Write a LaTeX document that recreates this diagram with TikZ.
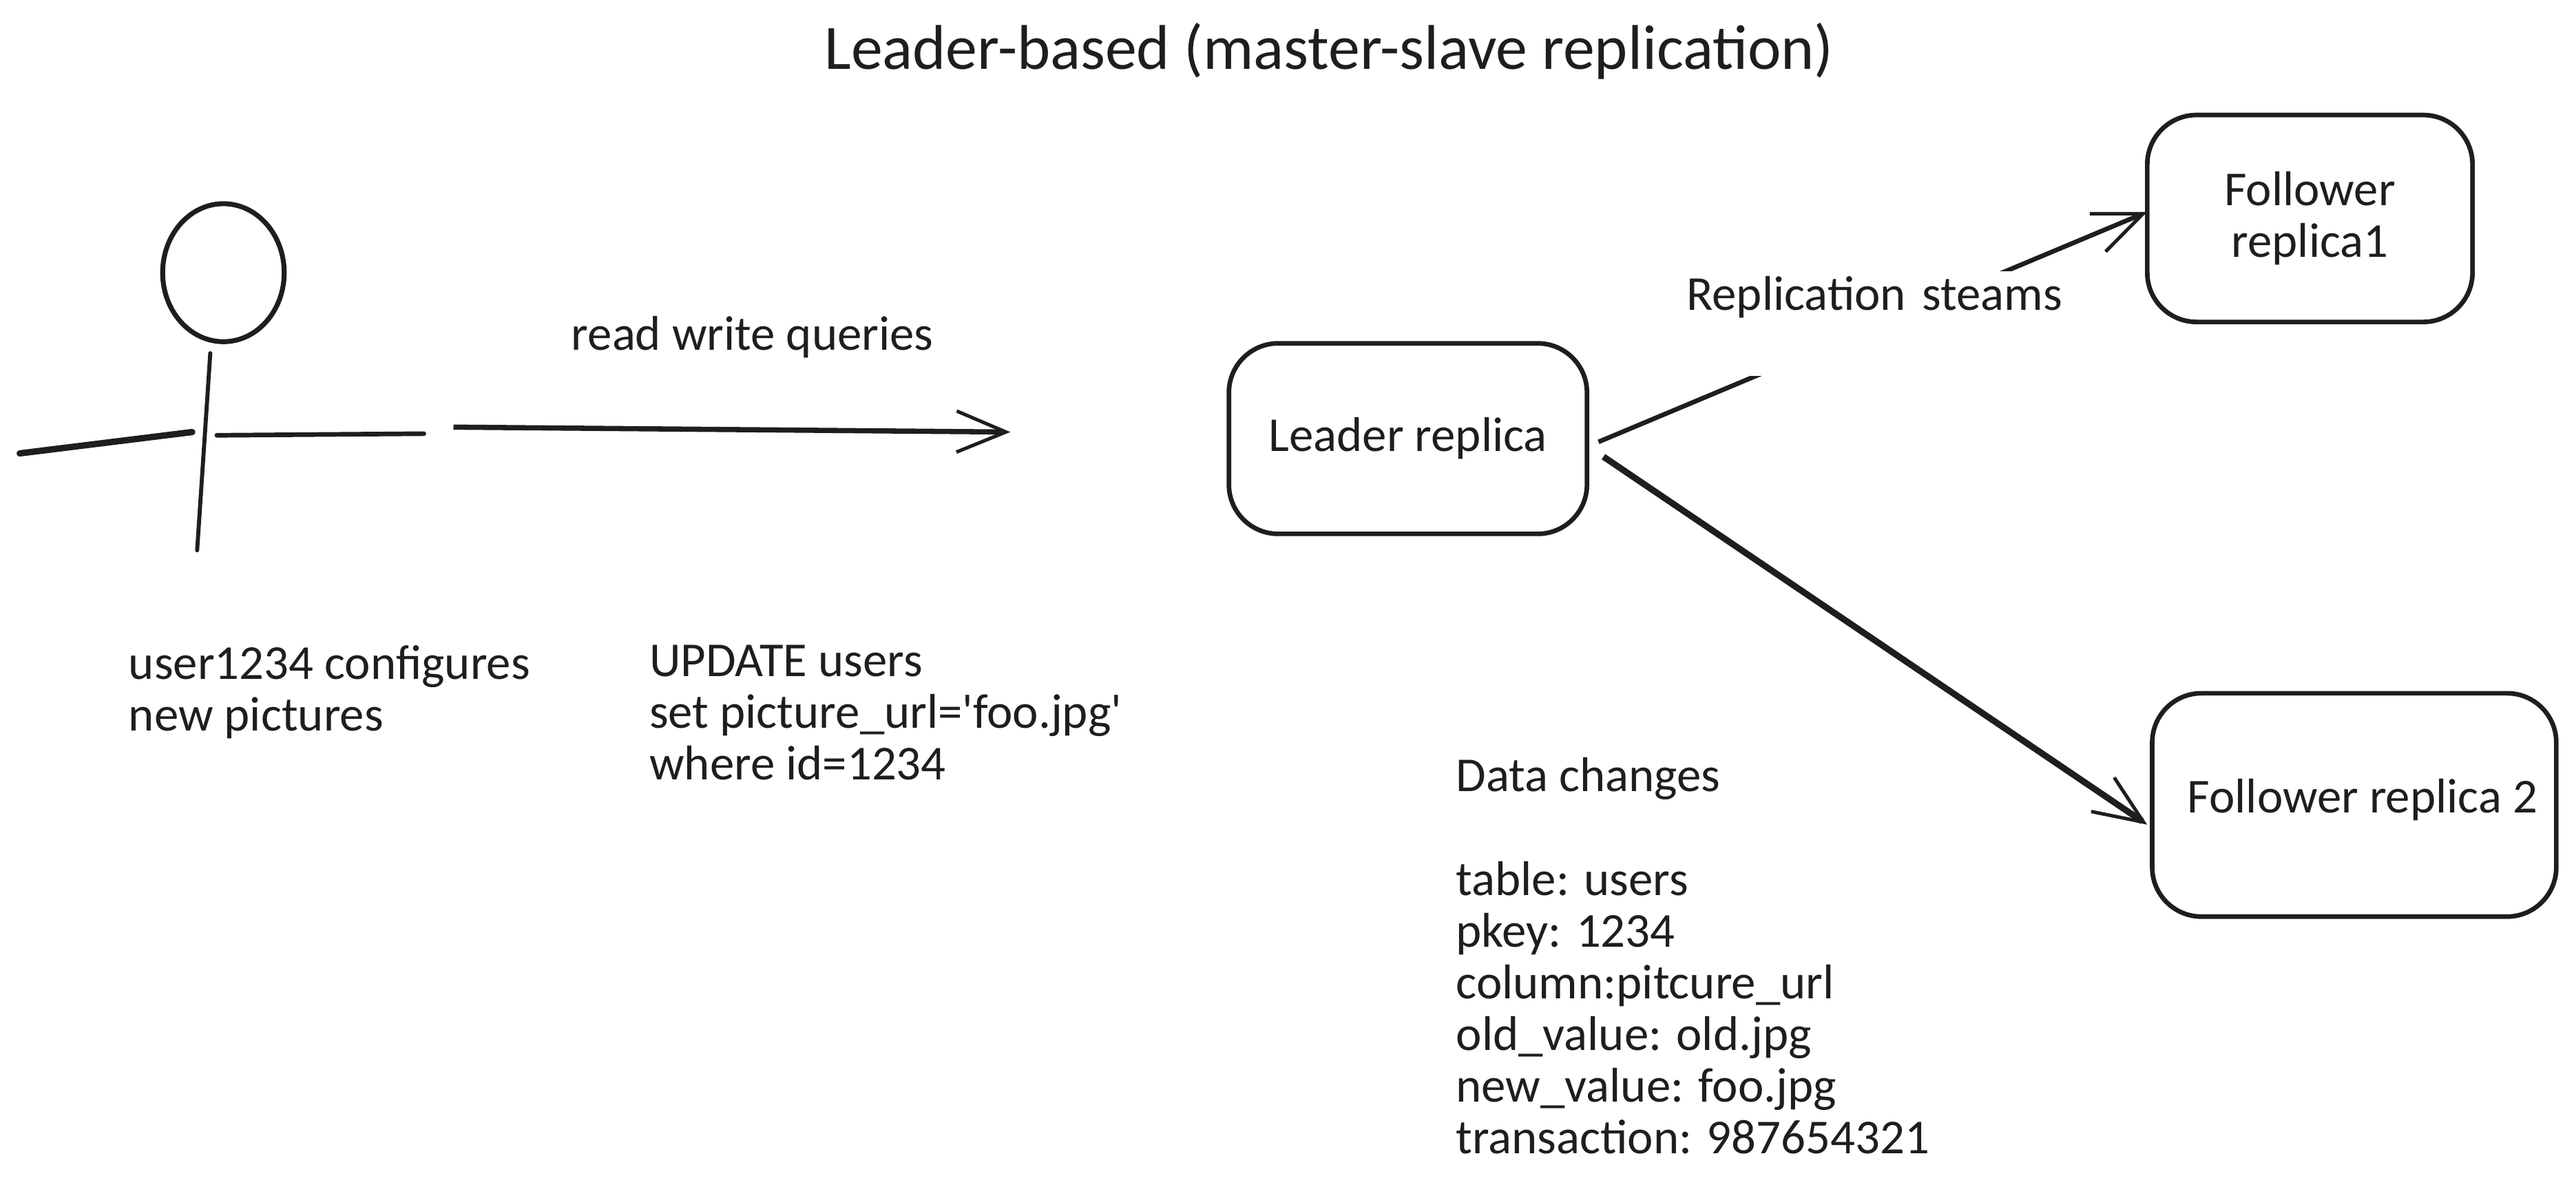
\documentclass[tikz,border=0pt]{standalone}
\usepackage{fontspec}
\setmainfont{Carlito}
\usetikzlibrary{arrows.meta}
\definecolor{inkgray}{HTML}{1E1E1E}
\tikzset{
	replicabox/.style={draw=inkgray, line width=1.6pt, rounded corners=0.6cm, align=center, inner sep=0pt, text=inkgray, font=\fontsize{16.9}{17.9}\selectfont},
	notetext/.style={anchor=north west, align=left, inner sep=0pt, text=inkgray, font=\fontsize{16.9}{17.9}\selectfont},
	stickline/.style={draw=inkgray, line cap=round},
	flowarrow/.style={draw=inkgray, -{Straight Barb[length=0.6cm,width=0.5cm,line width=1.2pt]}}
}

\begin{document}
\begin{tikzpicture}[x=0.02cm, y=-0.02cm]
				\useasboundingbox (0,0) rectangle (1568,722.2);
				
				\node[text=inkgray, inner sep=0pt, font=\fontsize{21.9}{26}\selectfont] (title) at (809,31) {Leader-based (master-slave replication)};
				
				\draw[stickline, line width=1.7pt] (136,166) ellipse (37 and 42);
				\draw[stickline, line width=1.4pt] (128,215) -- (120,335);
				\draw[stickline, line width=2.2pt] (12,276) -- (117,263);
				\draw[stickline, line width=1.6pt] (132,265) -- (258,264);
				
				\coordinate (userout) at (276,260);
				\coordinate (queryend) at (615,263);
				\draw[flowarrow, line width=1.8pt] (userout) -- (queryend);
				\node[notetext, anchor=center] (querylabel) at (458,205) {read write queries};
				
				\node[replicabox, minimum width=4.36cm, minimum height=2.32cm] (leader) at (857,267) {Leader replica};
				\node[replicabox, minimum width=3.96cm, minimum height=2.52cm] (follower1) at (1406,133) {Follower\\replica1};
				\node[replicabox, minimum width=4.92cm, minimum height=2.72cm] (follower2) at (1433,490) {\hspace*{0.2cm}\raisebox{0.22cm}{Follower replica 2}};
				
				\coordinate (leaderup) at (973,269);
				\coordinate (leaderdown) at (976,278);
				\coordinate (follower1in) at (1307,129);
				\coordinate (follower2in) at (1307,502);
				\draw[flowarrow, line width=1.6pt] (leaderup) -- (follower1in);
				\draw[flowarrow, line width=2.2pt] (leaderdown) -- (follower2in);
				\node[anchor=base, fill=white, inner sep=0pt, text=inkgray, text width=5cm, align=center, text height=0.48cm, text depth=0.8cm, font=\fontsize{16.9}{17.9}\selectfont] (streamlabel) at (1141,189) {Replication steams};
				
				\node[notetext] (usernote) at (78,392.5) {user1234 configures\\new pictures};
				\node[notetext] (sqlnote) at (395,392.5) {UPDATE users\\set picture\_url=\textquotesingle foo.jpg\textquotesingle\\where id=1234};
				\node[notetext] (datanote) at (886,461) {Data changes\\[17.9pt]table: users\\pkey: 1234\\column:pitcure\_url\\old\_value: old.jpg\\new\_value: foo.jpg\\transaction: 987654321};
			\end{tikzpicture}
\end{document}
